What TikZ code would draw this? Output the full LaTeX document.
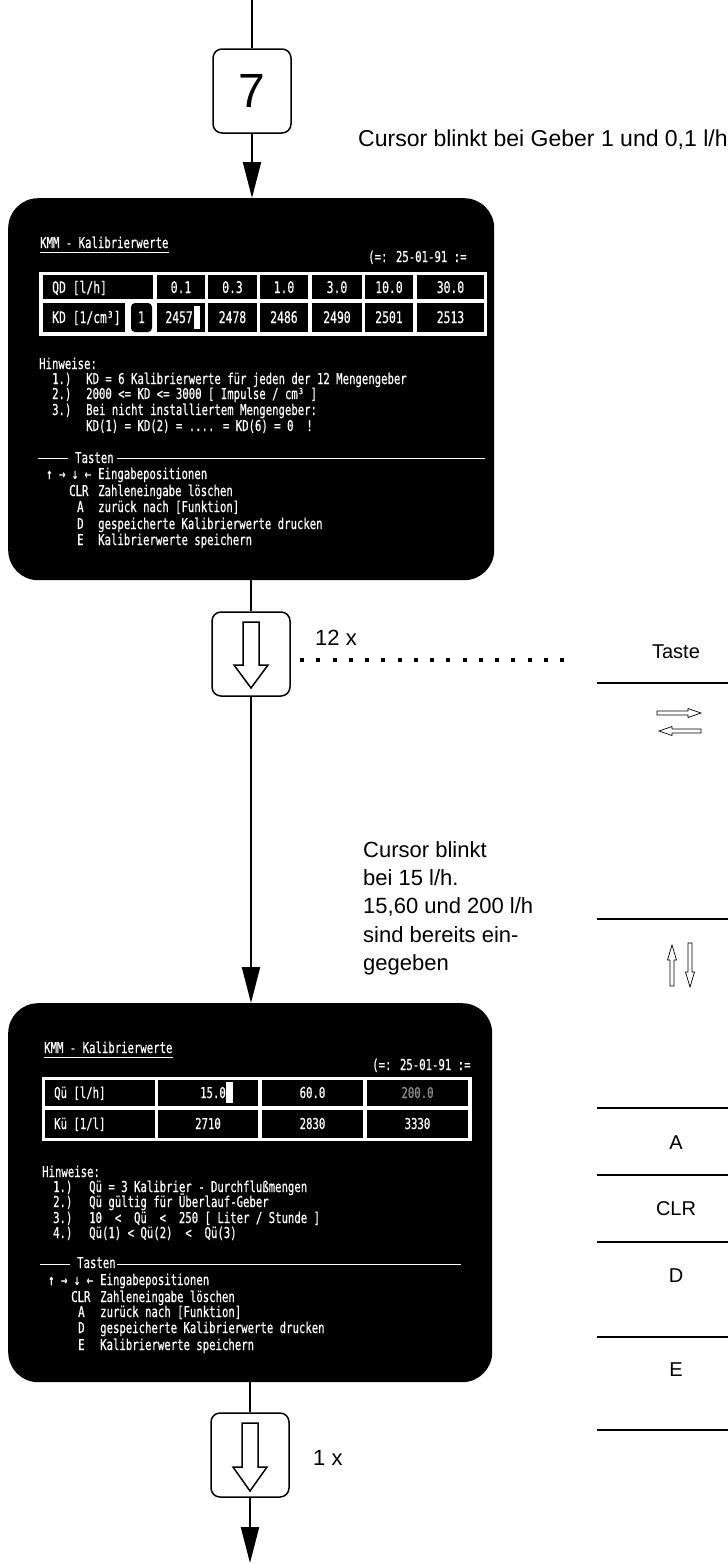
\documentclass[tikz,border=0pt]{standalone}
\usepackage{fontspec}
\setmainfont{Liberation Sans}
\newfontfamily\crtfont[FakeStretch=0.71,FakeBold=0.5]{DejaVu Sans Mono}
\usetikzlibrary{arrows.meta}
\begin{document}
\begin{tikzpicture}[x=1pt,y=-1pt,
  flow/.style={line width=2pt},
  flowarrow/.style={line width=2pt,-{Triangle[length=36pt,width=18pt]}},
  keybox/.style={draw,line width=1.5pt,rounded corners=9pt,minimum width=78pt,minimum height=84pt,inner sep=0pt},
  screen/.style={fill=black,rounded corners=30pt,inner sep=0pt,anchor=north west},
  crt/.style={text=white,font=\crtfont\fontsize{15}{17}\selectfont,inner sep=0pt,anchor=base west},
  crtc/.style={crt,anchor=base},
  tab/.style={font=\crtfont\fontsize{16}{18}\selectfont},
  annot/.style={font=\fontsize{22}{28.3}\selectfont,inner sep=0pt,anchor=base west},
  colkey/.style={font=\fontsize{20}{24}\selectfont,inner sep=0pt,anchor=base},
  rule/.style={line width=2.2pt},
  hollow/.style={draw,line width=1.5pt,fill=white,line join=miter},
  thinhollow/.style={draw,line width=0.7pt,fill=white},
  wrule/.style={white,line width=0.8pt}
]
\useasboundingbox (0,0) rectangle (728,1564);

% ---------- flow column ----------
\coordinate (top) at (252,0);
\node[keybox,font=\fontsize{48}{48}\selectfont] (k7) at (252,91) {7};
\node[screen,minimum width=486pt,minimum height=382pt] (s1) at (8,198) {};
\node[keybox] (kd1) at (251,654) {};
\node[screen,minimum width=484pt,minimum height=379pt] (s2) at (8,1003) {};
\node[keybox] (kd2) at (250,1455) {};
\coordinate (end) at (250,1563);

\draw[flow] (top) -- (k7.north);
\draw[flowarrow] (k7.south) -- (k7.south |- s1.north);
\draw[flow] (kd1.north |- s1.south) -- (kd1.north);
\draw[flowarrow] (kd1.south) -- (kd1.south |- s2.north);
\draw[flow] (kd2.north |- s2.south) -- (kd2.north);
\draw[flowarrow] (kd2.south) -- (end);

\begin{scope}[shift={(kd1.center)}]
  \draw[hollow] (-8,-32) -- (8,-32) -- (8,11) -- (17,11) -- (0,34) -- (-17,11) -- (-8,11) -- cycle;
\end{scope}
\begin{scope}[shift={(kd2.center)}]
  \draw[hollow] (-8,-32) -- (8,-32) -- (8,12) -- (17,12) -- (0,36) -- (-17,12) -- (-8,12) -- cycle;
\end{scope}

% ---------- annotations ----------
\node[annot,font=\fontsize{23}{28}\selectfont] (cur1) at (358,146) {Cursor blinkt bei Geber 1 und 0,1 l/h};
\node[annot] (n12) at (315,645) {12 x};
\foreach \i in {0,...,16} \fill ({300+16.25*\i},658) rectangle ++(4,4);
\node[annot] (c2a) at (363,857) {Cursor blinkt};
\node[annot] (c2b) at (363,885) {bei 15 l/h.};
\node[annot] (c2c) at (363,913) {15,60 und 200 l/h};
\node[annot] (c2d) at (363,942) {sind bereits ein-};
\node[annot] (c2e) at (363,970) {gegeben};
\node[annot] (n1) at (313,1465) {1 x};

% ---------- right key column ----------
\node[colkey] (taste) at (676,658) {Taste};
\foreach \yy in {683,919,1108,1175,1242,1337,1430} \draw[rule] (597,\yy) -- (728,\yy);
\draw[thinhollow] (657,711) -- (688,711) -- (688,708.5) -- (701,713) -- (688,717.5) -- (688,715) -- (657,715) -- cycle;
\draw[thinhollow] (701,729) -- (672,729) -- (672,726.5) -- (659,731) -- (672,735.5) -- (672,733) -- (701,733) -- cycle;
\draw[thinhollow] (670,986) -- (670,960) -- (667.5,960) -- (672,945) -- (676.5,960) -- (674,960) -- (674,986) -- cycle;
\draw[thinhollow] (688,943) -- (688,972) -- (685.5,972) -- (690,987) -- (694.5,972) -- (692,972) -- (692,943) -- cycle;
\node[colkey] (kA) at (676,1149) {A};
\node[colkey] (kCLR) at (676,1215) {CLR};
\node[colkey] (kD) at (676,1282) {D};
\node[colkey] (kE) at (676,1376) {E};

% ---------- screen 1 ----------
\node[crt] (s1t) at (40,248) {KMM - Kalibrierwerte};
\draw[wrule] ([yshift=-4pt]s1t.base west) -- ([yshift=-4pt]s1t.base east);
\node[crt] (s1d) at (368,262) {(=: 25-01-91 :=};
\fill[white] (39,272) rectangle (487,336);
\fill (43,275) rectangle (153,299);
\node[crt,tab] (s1r1) at (52,293) {QD [l/h]};
\foreach \a/\b/\v in {157/205/0.1,208/257/0.3,260/308/1.0,312/362/3.0,365/413/10.0,417/484/30.0} {
  \fill (\a,275) rectangle (\b,299);
  \node[crtc,tab] (qa\a) at ({(\a+\b)/2},293) {\v};
}
\fill (43,303) rectangle (125,332);
\node[crt,tab] (s1r2) at (52,323) {KD [1/cm³]};
\fill[rounded corners=4pt] (131,303) rectangle (152,332);
\node[crtc,tab] (s1g) at (141.5,323) {1};
\fill (157,303) rectangle (205,332);
\node[crt,tab,anchor=base east] (kd2457) at (193,323) {2457};
\fill[white] (194,306) rectangle (200,329);
\foreach \a/\b/\v in {208/257/2478,260/308/2486,312/362/2490,365/413/2501,417/484/2513} {
  \fill (\a,303) rectangle (\b,332);
  \node[crtc,tab] (kb\a) at ({(\a+\b)/2},323) {\v};
}
\node[crt] (h1) at (39,369) {Hinweise:};
\node[crt] (h1n1) at (52,384) {1.)};
\node[crt] (h1l1) at (86,384) {KD = 6 Kalibrierwerte für jeden der 12 Mengengeber};
\node[crt] (h1n2) at (52,399) {2.)};
\node[crt] (h1l2) at (86,399) {2000 <= KD <= 3000 [ Impulse / cm³ ]};
\node[crt] (h1n3) at (52,415) {3.)};
\node[crt] (h1l3) at (86,415) {Bei nicht installiertem Mengengeber:};
\node[crt] (h1l4) at (86,431) {KD(1) = KD(2) = .... = KD(6) = 0~~!};
\draw[wrule] (38,458) -- (68,458);
\node[crt] (tas1) at (75,463) {Tasten};
\draw[wrule] (117,458) -- (485,458);
\node[crt] (k1a) at (46,479) {↑ → ↓ ←};
\node[crt] (k1at) at (98,479) {Eingabepositionen};
\node[crt] (k1b) at (69,496) {CLR};
\node[crt] (k1bt) at (98,496) {Zahleneingabe löschen};
\node[crt] (k1c) at (77,512) {A};
\node[crt] (k1ct) at (98,512) {zurück nach [Funktion]};
\node[crt] (k1d) at (77,529) {D};
\node[crt] (k1dt) at (98,529) {gespeicherte Kalibrierwerte drucken};
\node[crt] (k1e) at (77,545) {E};
\node[crt] (k1et) at (98,545) {Kalibrierwerte speichern};

% ---------- screen 2 ----------
\node[crt] (s2t) at (44,1053) {KMM - Kalibrierwerte};
\draw[wrule] ([yshift=-4pt]s2t.base west) -- ([yshift=-4pt]s2t.base east);
\node[crt] (s2d) at (372,1070) {(=: 25-01-91 :=};
\fill[white] (42,1077) rectangle (472,1141);
\fill (45,1080) rectangle (155,1106);
\node[crt] (s2r1) at (54,1098) {Qü [l/h]};
\fill (158,1080) rectangle (258,1106);
\node[crt,anchor=base east] (q150) at (226,1098) {15.0};
\fill[white] (226,1082) rectangle (233,1103);
\fill (262,1080) rectangle (363,1106);
\node[crtc] (q600) at (312.5,1098) {60.0};
\fill (367,1080) rectangle (468,1106);
\node[crtc,text=white!55!black] (q2000) at (417.5,1098) {200.0};
\fill (45,1110) rectangle (155,1138);
\node[crt] (s2r2) at (54,1129) {Kü [1/l]};
\foreach \a/\b/\v in {158/258/2710,262/363/2830,367/468/3330} {
  \fill (\a,1110) rectangle (\b,1138);
  \node[crtc] (ku\a) at ({(\a+\b)/2},1129) {\v};
}
\node[crt] (h2) at (42,1177) {Hinweise:};
\node[crt] (h2n1) at (53,1192) {1.)};
\node[crt] (h2l1) at (89,1192) {Qü = 3 Kalibrier - Durchflußmengen};
\node[crt] (h2n2) at (53,1207) {2.)};
\node[crt] (h2l2) at (89,1207) {Qü gültig für Überlauf-Geber};
\node[crt] (h2n3) at (53,1223) {3.)};
\node[crt] (h2l3) at (89,1223) {10~~<~~Qü~~<~~250~[ Liter / Stunde ]};
\node[crt] (h2n4) at (53,1238) {4.)};
\node[crt] (h2l4) at (89,1238) {Qü(1) < Qü(2)~~<~~Qü(3)};
\draw[wrule] (40,1264) -- (70,1264);
\node[crt] (tas2) at (77,1268) {Tasten};
\draw[wrule] (117,1264) -- (461,1264);
\node[crt] (k2a) at (48,1285) {↑ → ↓ ←};
\node[crt] (k2at) at (100,1285) {Eingabepositionen};
\node[crt] (k2b) at (71,1302) {CLR};
\node[crt] (k2bt) at (100,1302) {Zahleneingabe löschen};
\node[crt] (k2c) at (78,1317) {A};
\node[crt] (k2ct) at (100,1317) {zurück nach [Funktion]};
\node[crt] (k2d) at (78,1333) {D};
\node[crt] (k2dt) at (100,1333) {gespeicherte Kalibrierwerte drucken};
\node[crt] (k2e) at (78,1350) {E};
\node[crt] (k2et) at (100,1350) {Kalibrierwerte speichern};
\end{tikzpicture}
\end{document}
